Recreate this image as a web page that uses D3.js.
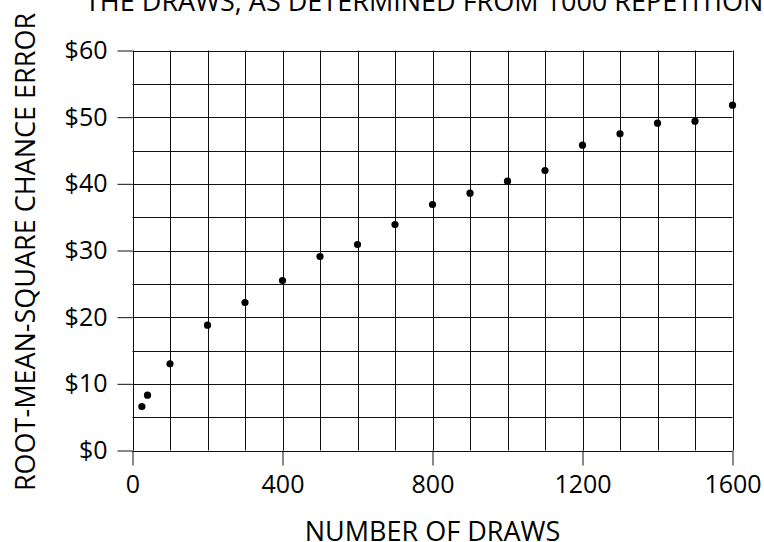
<!DOCTYPE html>
<html>
<head>
<meta charset="utf-8">
<script src="https://cdn.jsdelivr.net/npm/d3@7"></script>
<style>
  body { margin: 0; background: #fff; }
  svg { font-family: "Open Sans", sans-serif; }
</style>
</head>
<body>
<div class="chart"></div>
<script>
// number of draws and rms chance error
const draws = [25, 40, 100, 200, 300, 400, 500, 600, 700, 800, 900, 1000, 1100, 1200, 1300, 1400, 1500, 1600];
const rmsError = [6.6, 8.3, 13.0, 18.8, 22.2, 25.5, 29.1, 30.9, 33.9, 36.9, 38.6, 40.4, 42.0, 45.8, 47.5, 49.1, 49.4, 51.8];
const xTicks = [0, 400, 800, 1200, 1600];
const yTicks = [0, 10, 20, 30, 40, 50, 60];

const width = 764;
const height = 542;
const margin = {top: 50.5, right: 31.5, bottom: 91.5, left: 132.5};
const tickFont = 25;
const labelFont = 27;

const svg = d3.select(".chart")
  .append("svg")
  .attr("width", width)
  .attr("height", height);

const x = d3.scaleLinear()
  .domain([0, 1600])
  .range([margin.left, width - margin.right]);

const y = d3.scaleLinear()
  .domain([0, 60])
  .range([height - margin.bottom, margin.top]);

// grid every 100 draws and every $5
const grid = svg.append("g").attr("stroke", "#111").attr("stroke-width", 1);
grid.selectAll("line.v")
  .data(d3.range(0, 1601, 100))
  .join("line")
  .attr("class", "v")
  .attr("x1", d => Math.round(x(d)) + 0.5)
  .attr("x2", d => Math.round(x(d)) + 0.5)
  .attr("y1", y(0))
  .attr("y2", y(60));
grid.selectAll("line.h")
  .data(d3.range(0, 61, 5))
  .join("line")
  .attr("class", "h")
  .attr("y1", d => Math.round(y(d)) + 0.5)
  .attr("y2", d => Math.round(y(d)) + 0.5)
  .attr("x1", x(0))
  .attr("x2", x(1600));

// axes
const xAxis = d3.axisBottom(x)
  .tickValues(xTicks)
  .tickSize(15)
  .tickPadding(10)
  .tickFormat(d3.format("d"));

const yAxis = d3.axisLeft(y)
  .tickValues(yTicks)
  .tickSize(15)
  .tickPadding(10)
  .tickFormat(d => "$" + d);

function styleAxis(g) {
  g.select(".domain").remove();
  g.selectAll("line").attr("stroke", "#111");
  g.selectAll("text")
    .attr("font-size", tickFont)
    .attr("fill", "#000")
    .attr("font-family", "Open Sans");
}

svg.append("g")
  .attr("transform", `translate(0, ${y(0)})`)
  .call(xAxis)
  .call(styleAxis);

svg.append("g")
  .attr("transform", `translate(${x(0)}, 0)`)
  .call(yAxis)
  .call(styleAxis);

// points
svg.append("g")
  .selectAll("circle")
  .data(draws)
  .join("circle")
  .attr("cx", d => x(d))
  .attr("cy", (d, i) => y(rmsError[i]))
  .attr("r", 3.6)
  .attr("fill", "#000");

// labels
svg.append("text")
  .attr("x", 85)
  .attr("y", 11)
  .attr("font-size", labelFont)
  .text("THE DRAWS, AS DETERMINED FROM 1000 REPETITIONS");

svg.append("text")
  .attr("x", (margin.left + width - margin.right) / 2)
  .attr("y", 541)
  .attr("text-anchor", "middle")
  .attr("font-size", labelFont)
  .text("NUMBER OF DRAWS");

svg.append("text")
  .attr("transform", `translate(35, 252) rotate(-90)`)
  .attr("text-anchor", "middle")
  .attr("font-size", labelFont)
  .text("ROOT-MEAN-SQUARE CHANCE ERROR");
</script>
</body>
</html>
